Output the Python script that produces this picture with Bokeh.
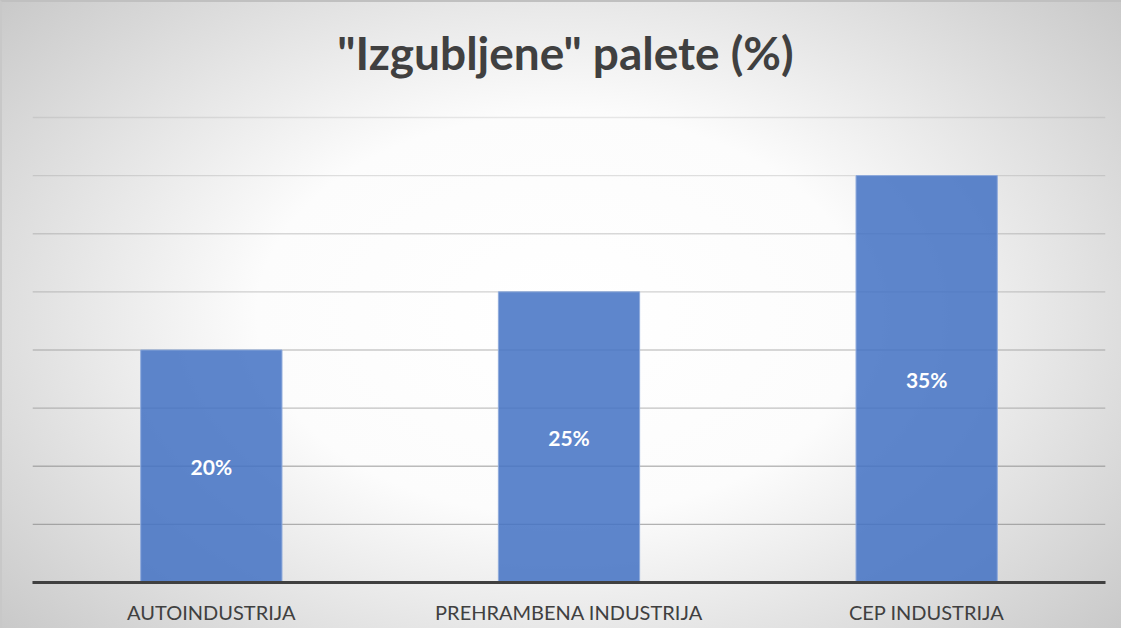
from bokeh.plotting import figure
from bokeh.models import ColumnDataSource, LabelSet, Label, FactorRange, Range1d, Span
from bokeh.core.properties import value
from bokeh.embed import file_html
from bokeh.resources import INLINE

categories = ["AUTOINDUSTRIJA", "PREHRAMBENA INDUSTRIJA", "CEP INDUSTRIJA"]
values = [20, 25, 35]
labels = ["20%", "25%", "35%"]
y_ticks = [0, 5, 10, 15, 20, 25, 30, 35, 40]
title_text = '"Izgubljene" palete (%)'

src = ColumnDataSource(dict(cat=categories, val=values, lab=labels,
                            mid=[v / 2 for v in values]))

# frame extends above the 40% line so that the title lives inside it
p = figure(x_range=FactorRange(*categories), y_range=Range1d(0, 49.03),
           width=1121, height=628, output_backend="svg", toolbar_location=None,
           min_border_left=30, min_border_right=18, min_border_top=10,
           min_border_bottom=48)
p.styles = {"background": "radial-gradient(ellipse 68% 80% at 50% 50%, #ffffff 0%, #fcfcfc 40%, #c6c6c6 100%)",
            "border-top": "2px solid #c0c0c0", "border-left": "2px solid #c8c8c8"}
p.background_fill_alpha = 0
p.border_fill_alpha = 0
p.outline_line_color = None
p.grid.visible = False

# gridlines: fainter towards the top, as in the reference
n = len(y_ticks)
for i, t in enumerate(y_ticks):
    p.add_layout(Span(location=t, dimension="width", line_color="#7a7a7a",
                      line_alpha=0.62 - 0.45 * i / (n - 1), line_width=1.3,
                      level="underlay"))

p.vbar(x="cat", top="val", width=0.395, source=src, fill_color="#4472C4",
       fill_alpha=0.86, line_color="#8fabdc", line_width=1)

p.add_layout(LabelSet(x="cat", y="mid", text="lab", source=src,
                      text_align="center", text_baseline="middle",
                      text_color="white", text_font=value("Lato"),
                      text_font_style="bold", text_font_size="21px"))

p.add_layout(Label(x=533, y=530, x_units="screen", y_units="screen", text=title_text,
                   text_align="center", text_baseline="alphabetic",
                   text_font="Lato", text_font_style="bold",
                   text_font_size="46px", text_color="#404040"))

p.yaxis.visible = False

xa = p.xaxis[0]
xa.axis_line_color = "#404040"
xa.axis_line_width = 3
xa.major_tick_line_color = None
xa.minor_tick_line_color = None
xa.major_label_text_font = "Lato"
xa.major_label_text_font_size = "20px"
xa.major_label_text_color = "#404040"
xa.major_label_standoff = 11

open("out.html", "w").write(file_html(p, INLINE))
